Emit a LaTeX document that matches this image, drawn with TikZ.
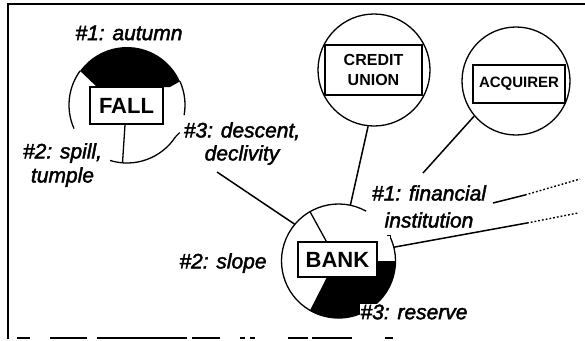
\documentclass[tikz,border=0pt]{standalone}
\usepackage{fontspec}
\setmainfont{Liberation Sans}
\newfontfamily\labfont{Liberation Sans}[FakeBold=2, ItalicFeatures={FakeBold=2}]
\usetikzlibrary{calc}
\begin{document}
\begin{tikzpicture}[x=1pt,y=-1pt,
  lab/.style={font=\labfont\itshape\fontsize{21}{24}\selectfont, align=center, inner sep=0pt},
  wbox/.style={draw, line width=1.5pt, fill=white, inner sep=0pt, font=\bfseries\fontsize{22}{24}\selectfont},
  sbox/.style={draw, line width=1.3pt, inner sep=0pt, align=center},
  ring/.style={line width=1.3pt},
  conn/.style={line width=1.5pt},
  dots/.style={line width=1.4pt, dash pattern=on 1.8pt off 2pt},
  hidden/.style={circle, inner sep=0pt}]
\useasboundingbox (0,0) rectangle (585,340);
% frame
\draw[line width=1.6pt] (8,339) -- (8,4) -- (585,4);
\foreach \a/\b in {17/30,50/87,97/187,192/220,240/245,250/255,288/308,312/352,385/393}
  \draw[line width=2pt] (\a,338) -- (\b,338);

% ---------- FALL ----------
\coordinate (F) at (127,105);
\node[hidden, minimum size=116] (fallc) at (F) {};
\fill ($(F)+(-144:58)$) arc[start angle=-144,end angle=-24,radius=58] -- (170,87) -- (97,87) -- cycle;
\draw[ring] ($(F)+(-144:58)$) arc[start angle=-144,end angle=-204,radius=58];
\draw[ring] ($(F)+(-253:58)$) arc[start angle=-253,end angle=-327,radius=58];
\draw[ring] ($(F)+(-24:58)$) arc[start angle=-24,end angle=10,radius=58];
\draw[ring] ($(F)+(-327:58)$) -- ++(4,-4);
\node[wbox, minimum width=73, minimum height=37] (fall) at (126.5,105.5) {FALL};
\coordinate (fbot) at (122.5,163);
\draw[ring] ([xshift=-1.5pt]fall.south) -- (fbot);

\node[lab] (l1a) at (129,33) {\#1: autumn};
\node[lab] (l2a) at (62.5,165) {\#2: spill,\\tumple};
\node[lab, font=\labfont\itshape\fontsize{21}{23}\selectfont] (l3a) at (242,143.5) {\#3: descent,\\declivity};

% ---------- CREDIT UNION ----------
\node[draw, circle, ring, minimum size=112, inner sep=0pt] (cuc) at (374,70) {};
\node[sbox, minimum width=97, minimum height=50, font=\bfseries\fontsize{16}{20}\selectfont] (cu) at (373.5,70) {CREDIT\\UNION};

% ---------- ACQUIRER ----------
\node[draw, circle, ring, minimum size=108, inner sep=0pt] (acc) at (516,81) {};
\node[sbox, minimum width=92, minimum height=38, font=\bfseries\fontsize{15}{18}\selectfont] (acq) at (519,84) {ACQUIRER};

% ---------- BANK ----------
\coordinate (B) at (338.5,261);
\node[hidden, minimum size=114] (bankc) at (B) {};
\fill (377,261) -- ($(B)+(0:57)$) arc[start angle=0,end angle=120,radius=57] -- (327,277) -- (377,277) -- cycle;
\draw[ring] ($(B)+(-61:57)$) arc[start angle=-61,end angle=-240,radius=57];
\draw[ring] ($(B)+(-24:57)$) arc[start angle=-24,end angle=120,radius=57];
\draw[ring] ($(B)+(-24:57)$) -- ++(0,-2) -- ++(-4,0);
\node[wbox, minimum width=79, minimum height=35] (bank) at (337.5,259.5) {BANK};
\draw[ring] ($(B)+(-120:57)$) -- ([xshift=29pt]bank.north west);

\node[lab, font=\labfont\itshape\fontsize{21}{27}\selectfont] (l1b) at (429,206.5) {\#1: financial\\institution};
\node[lab] (l2b) at (223,263) {\#2: slope};
\node[lab, fill=white, inner sep=1pt] (l3b) at (414,312) {\#3: reserve};

% ---------- connectors ----------
\coordinate (d1) at (217,172);
\draw[conn] (d1) -- (bankc.140);
\draw[conn] (cuc.264) -- (bankc.78);
\coordinate (a1) at (423,173);
\draw[conn] (acc.220) -- (a1);
\coordinate (r1) at (527,223);
\coordinate (r2) at (578,213);
\draw[conn] (bankc.14) -- (r1);
\draw[dots] (r1) -- (r2);
\coordinate (u0) at (493,203);
\coordinate (u1) at (525,195);
\coordinate (u2) at (580,179);
\draw[conn] (u0) -- (u1);
\draw[dots] (u1) -- (u2);
\end{tikzpicture}
\end{document}
